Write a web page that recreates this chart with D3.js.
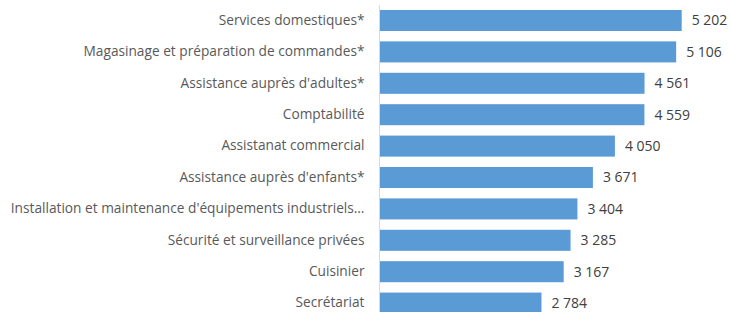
<!DOCTYPE html>
<html>
<head>
<meta charset="utf-8">
<script src="https://cdn.jsdelivr.net/npm/d3@7"></script>
<style>
  body { margin: 0; background: #fff; }
  svg { display: block; }
  .lbl { font-family: "Open Sans", sans-serif; font-size: 13.7px; fill: #595959; }
  .val { font-family: "Open Sans", sans-serif; font-size: 14px; fill: #404040; }
</style>
</head>
<body>
<div id="chart"></div>
<script>
// metiers, du plus grand au plus petit
const categories = [
  "Services domestiques*",
  "Magasinage et préparation de commandes*",
  "Assistance auprès d'adultes*",
  "Comptabilité",
  "Assistanat commercial",
  "Assistance auprès d'enfants*",
  "Installation et maintenance d'équipements industriels…",
  "Sécurité et surveillance privées",
  "Cuisinier",
  "Secrétariat"
];
const values = [5202, 5106, 4561, 4559, 4050, 3671, 3404, 3285, 3167, 2784];

const width = 730, height = 312;
const x0 = 380;      // where bars start (the axis)
const step = 31.4;   // row pitch
const yTop = 4.8;

// french style thousands: "5 202"
const fmt = d3.formatLocale({decimal: ",", thousands: " ", grouping: [3], currency: ["", " €"]}).format(",d");

const svg = d3.select("#chart").append("svg")
  .attr("width", width)
  .attr("height", height);

const x = d3.scaleLinear().domain([0, 6000]).range([x0, x0 + 348]);
const y = d3.scaleBand()
  .domain(categories)
  .range([yTop, yTop + step * categories.length])
  .paddingInner(0.33)
  .paddingOuter(0.165);

svg.selectAll("rect.bar")
  .data(values)
  .enter()
  .append("rect")
    .attr("class", "bar")
    .attr("x", x(0))
    .attr("y", (d, i) => y(categories[i]))
    .attr("width", d => x(d) - x(0))
    .attr("height", y.bandwidth())
    .attr("fill", "#5B9BD5");

// vertical category axis, no ticks
const yAxis = svg.append("g")
  .attr("transform", `translate(${x0 - 0.5}, 0)`)
  .call(d3.axisLeft(y).tickSize(0).tickPadding(15));
yAxis.select(".domain").attr("stroke", "#d9d9d9").attr("d", `M0,5V${height}`);
yAxis.selectAll("text").attr("class", "lbl").attr("fill", null).attr("font-size", null).attr("font-family", null);

svg.selectAll("text.val")
  .data(values)
  .enter()
  .append("text")
    .attr("class", "val")
    .attr("x", d => x(d) + 10)
    .attr("y", (d, i) => y(categories[i]) + y.bandwidth() / 2)
    .attr("dy", "0.35em")
    .text(d => fmt(d));
</script>
</body>
</html>
